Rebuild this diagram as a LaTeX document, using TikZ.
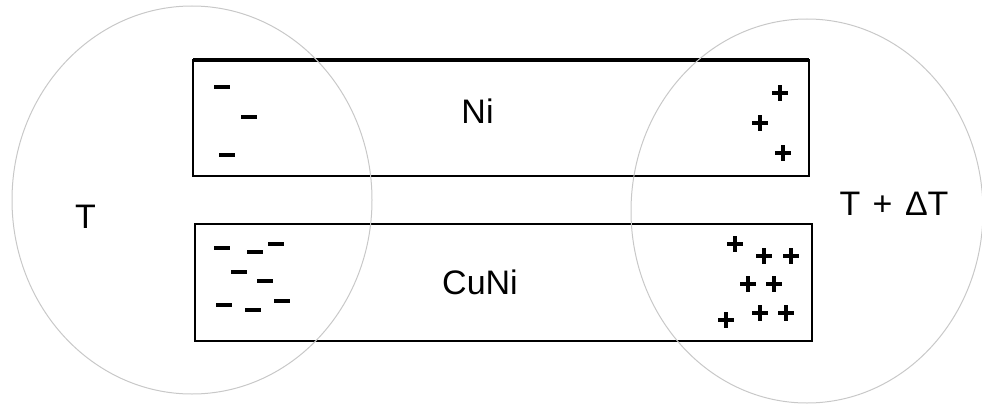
\documentclass[tikz,border=0pt]{standalone}
\usepackage{fontspec}
\setmainfont{Liberation Sans}
\usetikzlibrary{shapes.geometric}
\newcommand{\Tcold}{T}
\newcommand{\Thot}{T\hspace{3pt} + \hspace{3pt}ΔT}
\definecolor{zonegray}{RGB}{200,200,200}
\tikzset{
  wire/.style={draw, line width=1.8pt, inner sep=0pt, outer sep=0pt},
  zone/.style={ellipse, draw=zonegray, line width=1pt, inner sep=0pt},
  tag/.style={inner sep=0pt, font=\fontsize{34}{40}\selectfont},
  charge/.style={line width=3.4pt, line cap=butt}
}

\begin{document}
\begin{tikzpicture}[x=1pt, y=-1pt]
  \useasboundingbox (0,0) rectangle (982,404);

  % the two wires
  \node [wire, minimum width=616pt, minimum height=116pt] (ni) at (501,118) {};
  \node [wire, minimum width=617pt, minimum height=117pt] (cuni) at (503.5,282.5) {};
  \draw [line width=3.3pt] (ni.north west) -- (ni.north east);

  \node [tag] (nitext) at (477.5,111) {Ni};
  \node [tag] (cunitext) at (480,282) {CuNi};

  % negative charges, cold end
  \foreach \x/\y in {222/87, 249/117, 227/155}
    \draw [charge] (\x-8,\y) -- (\x+8,\y);
  \foreach \x/\y in {222/248, 255/252, 276/244, 239/272, 265/281, 224/305, 253/310, 282/301}
    \draw [charge] (\x-8,\y) -- (\x+8,\y);

  % positive charges, hot end
  \foreach \x/\y in {780/93, 760/123, 783/153}
    \draw [charge] (\x-8,\y) -- (\x+8,\y) (\x,\y-8) -- (\x,\y+8);
  \foreach \x/\y in {735/244, 764/256, 791/256, 748/284, 774/284, 726/320, 760/313, 786/313}
    \draw [charge] (\x-8,\y) -- (\x+8,\y) (\x,\y-8) -- (\x,\y+8);

  % the two temperature zones
  \node [zone, minimum width=360pt, minimum height=388pt] (cold) at (192,200) {};
  \node [zone, minimum width=352pt, minimum height=384pt] (hot) at (807,211) {};
  \node [tag] (coldtext) at (85.5,216.5) {\Tcold};
  \node [tag] (hottext) at (894,204) {\Thot};
\end{tikzpicture}
\end{document}
